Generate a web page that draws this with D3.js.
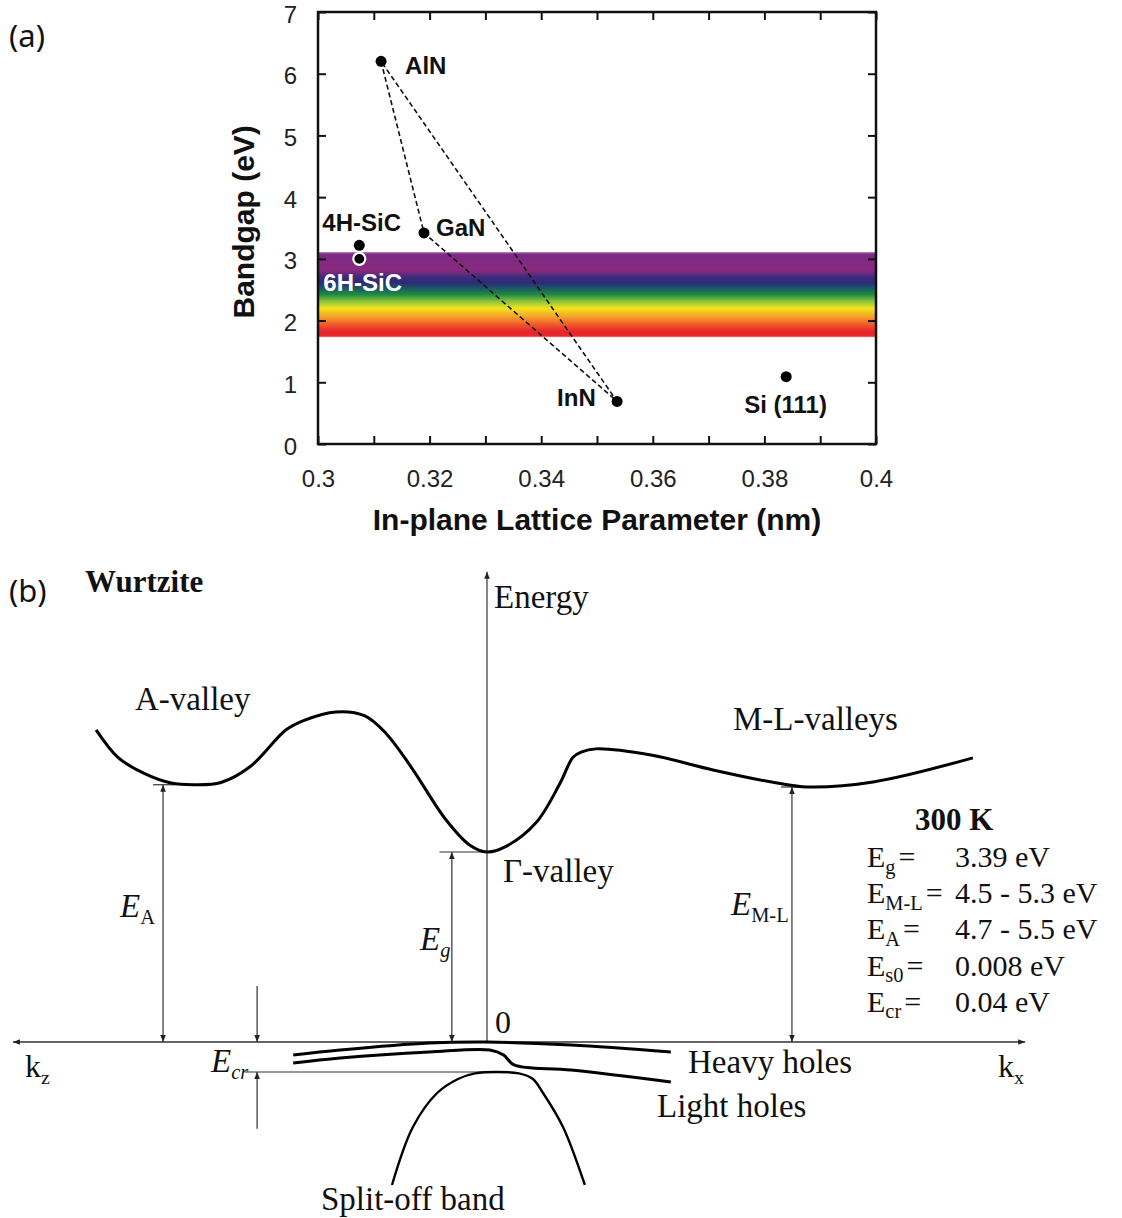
<!DOCTYPE html>
<html>
<head>
<meta charset="utf-8">
<script src="https://cdn.jsdelivr.net/npm/d3@7"></script>
<style>
  body { margin: 0; background: #fff; }
  svg { display: block; }
</style>
</head>
<body>
<svg id="fig" width="1122" height="1218"></svg>
<script>
// ---------- panel (a): bandgap vs in-plane lattice parameter ----------
var materials = ['AlN', 'GaN', 'InN', '4H-SiC', '6H-SiC', 'Si (111)'];
var latticeNm = [0.3113, 0.3190, 0.3536, 0.3074, 0.3074, 0.3839];
var bandgapEv = [6.2, 3.42, 0.69, 3.22, 3.0, 1.09];
var xTickLabels = [0.3, 0.32, 0.34, 0.36, 0.38, 0.4];
var yTickLabels = [0, 1, 2, 3, 4, 5, 6, 7];
var alloyTriangle = ['AlN', 'GaN', 'InN', 'AlN'];
var visibleRangeEv = [1.73, 3.11];

// ---------- panel (b): wurtzite GaN band structure (schematic) ----------
// k: -1 .. 1 (kz to the left, kx to the right), E in eV above valence top
var cbK = [-0.823, -0.777, -0.724, -0.665, -0.615, -0.56, -0.499, -0.423, -0.385, -0.318, -0.257, -0.213, -0.160, -0.086, -0.036, 0, 0.038, 0.103, 0.154, 0.181, 0.198, 0.229, 0.345, 0.478, 0.611, 0.674, 0.813, 1.023];
var cbE = [5.57, 5.08, 4.80, 4.62, 4.59, 4.63, 4.91, 5.57, 5.74, 5.89, 5.82, 5.51, 4.91, 3.96, 3.51, 3.39, 3.48, 3.91, 4.62, 5.08, 5.17, 5.23, 5.12, 4.85, 4.62, 4.55, 4.64, 5.07];
var heavyK = [-0.408, -0.309, -0.122, 0, 0.177, 0.387];
var heavyE = [-0.232, -0.143, -0.018, 0, -0.054, -0.178];
var lightK = [-0.408, -0.309, -0.122, 0.006, 0.035, 0.057, 0.177, 0.387];
var lightE = [-0.375, -0.285, -0.178, -0.143, -0.232, -0.410, -0.500, -0.714];
var splitK = [-0.200, -0.156, -0.105, -0.060, -0.025, 0.021, 0.067, 0.096, 0.118, 0.160, 0.206];
var splitE = [-2.551, -1.517, -0.910, -0.655, -0.560, -0.535, -0.560, -0.655, -0.910, -1.517, -2.551];
var tableSymbols = ['g', 'M-L', 'A', 's0', 'cr'];
var tableValues = ['3.39 eV', '4.5 - 5.3 eV', '4.7 - 5.5 eV', '0.008 eV', '0.04 eV'];

var svg = d3.select('#fig');
var defs = svg.append('defs');

// ================= panel (a) =================
var x = d3.scaleLinear().domain([0.3, 0.4]).range([318, 876]);
var y = d3.scaleLinear().domain([0, 7]).range([444, 12]);
var SANS = 'Liberation Sans, Arial, sans-serif';

var grad = defs.append('linearGradient').attr('id', 'rainbow')
    .attr('x1', 0).attr('y1', 0).attr('x2', 0).attr('y2', 1);
[[0, '#b080b4'], [0.025, '#7c2a86'], [0.15, '#84297f'], [0.21, '#8a2a80'],
 [0.30, '#3c2a7c'], [0.36, '#2b2b78'], [0.43, '#1c5a62'], [0.5, '#1f8c40'],
 [0.58, '#8fc43a'], [0.66, '#f2e41c'], [0.76, '#f5a02a'], [0.85, '#ef5a2a'],
 [0.93, '#e8262a'], [0.985, '#e8282a'], [1, '#f4a0a0']]
  .forEach(function(s) {
    grad.append('stop').attr('offset', s[0]).attr('stop-color', s[1]);
  });

var pa = svg.append('g');

pa.append('rect')
    .attr('x', x(0.3) + 1).attr('width', x(0.4) - x(0.3) - 2)
    .attr('y', y(visibleRangeEv[1])).attr('height', y(visibleRangeEv[0]) - y(visibleRangeEv[1]))
    .attr('fill', 'url(#rainbow)');

// ticks (inward) on all four sides
var minorX = x.ticks(10);
var isLabelled = function(d) {
  return xTickLabels.some(function(v) { return Math.abs(v - d) < 1e-9; });
};
var axB = pa.append('g').attr('transform', 'translate(0,' + y(0) + ')')
    .call(d3.axisBottom(x).tickValues(minorX).tickSizeInner(-8).tickSizeOuter(0).tickPadding(26)
      .tickFormat(function(d) { return isLabelled(d) ? d3.format('~g')(d) : ''; }));
var axT = pa.append('g').attr('transform', 'translate(0,' + y(7) + ')')
    .call(d3.axisTop(x).tickValues(minorX).tickSizeInner(-8).tickSizeOuter(0).tickFormat(''));
var axL = pa.append('g').attr('transform', 'translate(' + x(0.3) + ',0)')
    .call(d3.axisLeft(y).tickValues(yTickLabels).tickSizeInner(-8).tickSizeOuter(0).tickPadding(21)
      .tickFormat(d3.format('d')));
var axR = pa.append('g').attr('transform', 'translate(' + x(0.4) + ',0)')
    .call(d3.axisRight(y).tickValues(yTickLabels).tickSizeInner(-8).tickSizeOuter(0).tickFormat(''));

[axB, axT, axL, axR].forEach(function(a) {
  a.select('.domain').remove();
  a.selectAll('.tick line').attr('stroke', '#111').attr('stroke-width', 2);
  a.selectAll('.tick text').attr('font-family', SANS).attr('font-size', 24).attr('fill', '#222');
});
axL.selectAll('.tick text').attr('dy', '0.42em');

pa.append('rect')
    .attr('x', x(0.3)).attr('y', y(7))
    .attr('width', x(0.4) - x(0.3)).attr('height', y(0) - y(7))
    .attr('fill', 'none').attr('stroke', '#111').attr('stroke-width', 2.5);

// axis titles
pa.append('text')
    .attr('x', (x(0.3) + x(0.4)) / 2).attr('y', 530)
    .attr('text-anchor', 'middle')
    .attr('font-family', SANS).attr('font-weight', 'bold').attr('font-size', 30).attr('fill', '#111')
    .text('In-plane Lattice Parameter (nm)');
pa.append('text')
    .attr('transform', 'translate(254,' + y(3.6) + ') rotate(-90)')
    .attr('text-anchor', 'middle')
    .attr('font-family', SANS).attr('font-weight', 'bold').attr('font-size', 30).attr('fill', '#111')
    .text('Bandgap (eV)');

// alloy triangle (dashed)
var idx = function(name) { return materials.indexOf(name); };
pa.append('path')
    .attr('d', d3.line()
      .x(function(n) { return x(latticeNm[idx(n)]); })
      .y(function(n) { return y(bandgapEv[idx(n)]); })(alloyTriangle))
    .attr('fill', 'none').attr('stroke', '#111').attr('stroke-width', 1.6)
    .attr('stroke-dasharray', '5,3');

// points
var pts = materials.map(function(m, i) { return { name: m, a: latticeNm[i], eg: bandgapEv[i] }; });
pa.selectAll('circle.pt').data(pts).enter().append('circle')
    .attr('class', 'pt')
    .attr('cx', function(d) { return x(d.a); })
    .attr('cy', function(d) { return y(d.eg); })
    .attr('r', function(d) { return d.name === '6H-SiC' ? 6 : 5.5; })
    .attr('fill', '#000')
    .attr('stroke', function(d) { return d.name === '6H-SiC' ? '#fff' : 'none'; })
    .attr('stroke-width', 2.2);

// point labels, offsets in px from the marker
var labelOffset = {
  'AlN': [24, 13], 'GaN': [12, 3], 'InN': [-60, 5],
  '4H-SiC': [-37, -14], '6H-SiC': [-36, 32], 'Si (111)': [-42, 36]
};
pa.selectAll('text.pl').data(pts).enter().append('text')
    .attr('class', 'pl')
    .attr('x', function(d) { return x(d.a) + labelOffset[d.name][0]; })
    .attr('y', function(d) { return y(d.eg) + labelOffset[d.name][1]; })
    .attr('font-family', SANS).attr('font-weight', 'bold').attr('font-size', 24)
    .attr('fill', function(d) { return d.name === '6H-SiC' ? '#fff' : '#111'; })
    .text(function(d) { return d.name; });

// panel letters
svg.append('text').attr('x', 9).attr('y', 47)
    .attr('font-family', 'Noto Sans, sans-serif').attr('font-size', 31).attr('fill', '#111').text('(a)');
svg.append('text').attr('x', 9).attr('y', 602)
    .attr('font-family', 'Noto Sans, sans-serif').attr('font-size', 31).attr('fill', '#111').text('(b)');

// ================= panel (b) =================
var k = d3.scaleLinear().domain([-1, 1]).range([12, 962]);
var E = d3.scaleLinear().domain([0, 3.39]).range([1042, 852]);
var SERIF = 'Liberation Serif, Times New Roman, serif';

defs.append('marker').attr('id', 'head')
    .attr('viewBox', '0 0 10 10').attr('refX', 10).attr('refY', 5)
    .attr('markerWidth', 7).attr('markerHeight', 7)
    .attr('markerUnits', 'userSpaceOnUse').attr('orient', 'auto-start-reverse')
  .append('path').attr('d', 'M0,1 L10,5 L0,9 Z').attr('fill', '#222');

var pb = svg.append('g');

var band = function(ks, es) {
  return d3.line().curve(d3.curveCatmullRom.alpha(0.5))
    .x(function(d) { return k(d[0]); })
    .y(function(d) { return E(d[1]); })(d3.zip(ks, es));
};
var seg = function(k1, e1, k2, e2) {
  return pb.append('line').attr('x1', k(k1)).attr('y1', E(e1)).attr('x2', k(k2)).attr('y2', E(e2))
    .attr('stroke', '#333').attr('stroke-width', 1.2);
};

// axes
seg(-0.998, 0, 1.133, 0).attr('stroke-width', 1.5)
    .attr('marker-start', 'url(#head)').attr('marker-end', 'url(#head)');
seg(0, 0, 0, 8.39).attr('marker-end', 'url(#head)');

// energy separations
var eA = cbE[cbK.indexOf(-0.615)], eML = cbE[cbK.indexOf(0.674)], eG = cbE[cbK.indexOf(0)];
seg(-0.682, 0, -0.682, eA).attr('marker-start', 'url(#head)').attr('marker-end', 'url(#head)');
seg(-0.703, eA, -0.657, eA);
seg(-0.074, 0, -0.074, eG).attr('marker-start', 'url(#head)').attr('marker-end', 'url(#head)');
seg(-0.1, eG, 0, eG);
seg(0.642, 0, 0.642, eML).attr('marker-start', 'url(#head)').attr('marker-end', 'url(#head)');
seg(0.619, eML, 0.667, eML);
var eSo = d3.max(splitE);
seg(-0.484, 1.0, -0.484, 0).attr('marker-end', 'url(#head)');
seg(-0.484, -1.55, -0.484, eSo).attr('marker-end', 'url(#head)');
seg(-0.51, eSo, 0, eSo);

// bands
pb.append('path').attr('d', band(cbK, cbE))
    .attr('fill', 'none').attr('stroke', '#000').attr('stroke-width', 3);
pb.append('path').attr('d', band(heavyK, heavyE))
    .attr('fill', 'none').attr('stroke', '#000').attr('stroke-width', 3);
pb.append('path').attr('d', band(lightK, lightE))
    .attr('fill', 'none').attr('stroke', '#000').attr('stroke-width', 3);
pb.append('path').attr('d', band(splitK, splitE))
    .attr('fill', 'none').attr('stroke', '#000').attr('stroke-width', 2.4);

// plain labels
var txt = function(px, py, s, size, opts) {
  opts = opts || {};
  return pb.append('text').attr('x', px).attr('y', py)
    .attr('font-family', SERIF).attr('font-size', size)
    .attr('font-weight', opts.bold ? 'bold' : 'normal')
    .attr('font-style', opts.italic ? 'italic' : 'normal')
    .attr('fill', '#111').text(s);
};
txt(85, 592, 'Wurtzite', 31, { bold: true });
txt(k(0) + 7, 608, 'Energy', 33);
txt(135, 710, 'A-valley', 33);
txt(733, 730, 'M-L-valleys', 33);
txt(503, 882, '\u0393-valley', 33);
txt(k(0) + 8, 1033, '0', 32);
txt(688, 1073, 'Heavy holes', 33);
txt(657, 1117, 'Light holes', 33);
txt(321, 1210, 'Split-off band', 33);
txt(915, 830, '300 K', 31, { bold: true });

// symbol with subscript
var sym = function(px, py, main, sub, size, mainItalic, subItalic, subScale) {
  var t = pb.append('text').attr('x', px).attr('y', py)
    .attr('font-family', SERIF).attr('font-size', size).attr('fill', '#111');
  t.append('tspan').attr('font-style', mainItalic ? 'italic' : 'normal').text(main);
  t.append('tspan').attr('font-size', size * (subScale || 0.62)).attr('dy', size * 0.22)
    .attr('font-style', subItalic ? 'italic' : 'normal').text(sub);
  return t;
};
sym(120, 917, 'E', 'A', 33, true, false);
sym(420, 950, 'E', 'g', 33, true, true);
sym(731, 915, 'E', 'M-L', 33, true, false);
sym(211, 1072, 'E', 'cr', 33, true, true);
sym(25, 1077, 'k', 'z', 32, false, false);
sym(998, 1077, 'k', 'x', 32, false, false);

// 300 K table
tableSymbols.forEach(function(s, i) {
  var t = sym(867, 867 + i * 36.2, 'E', s, 30, false, false, 0.68);
  t.append('tspan').attr('dy', -30 * 0.22).attr('dx', 3).text('=');
  t.append('tspan').attr('x', 955).text(tableValues[i]);
});
</script>
</body>
</html>
